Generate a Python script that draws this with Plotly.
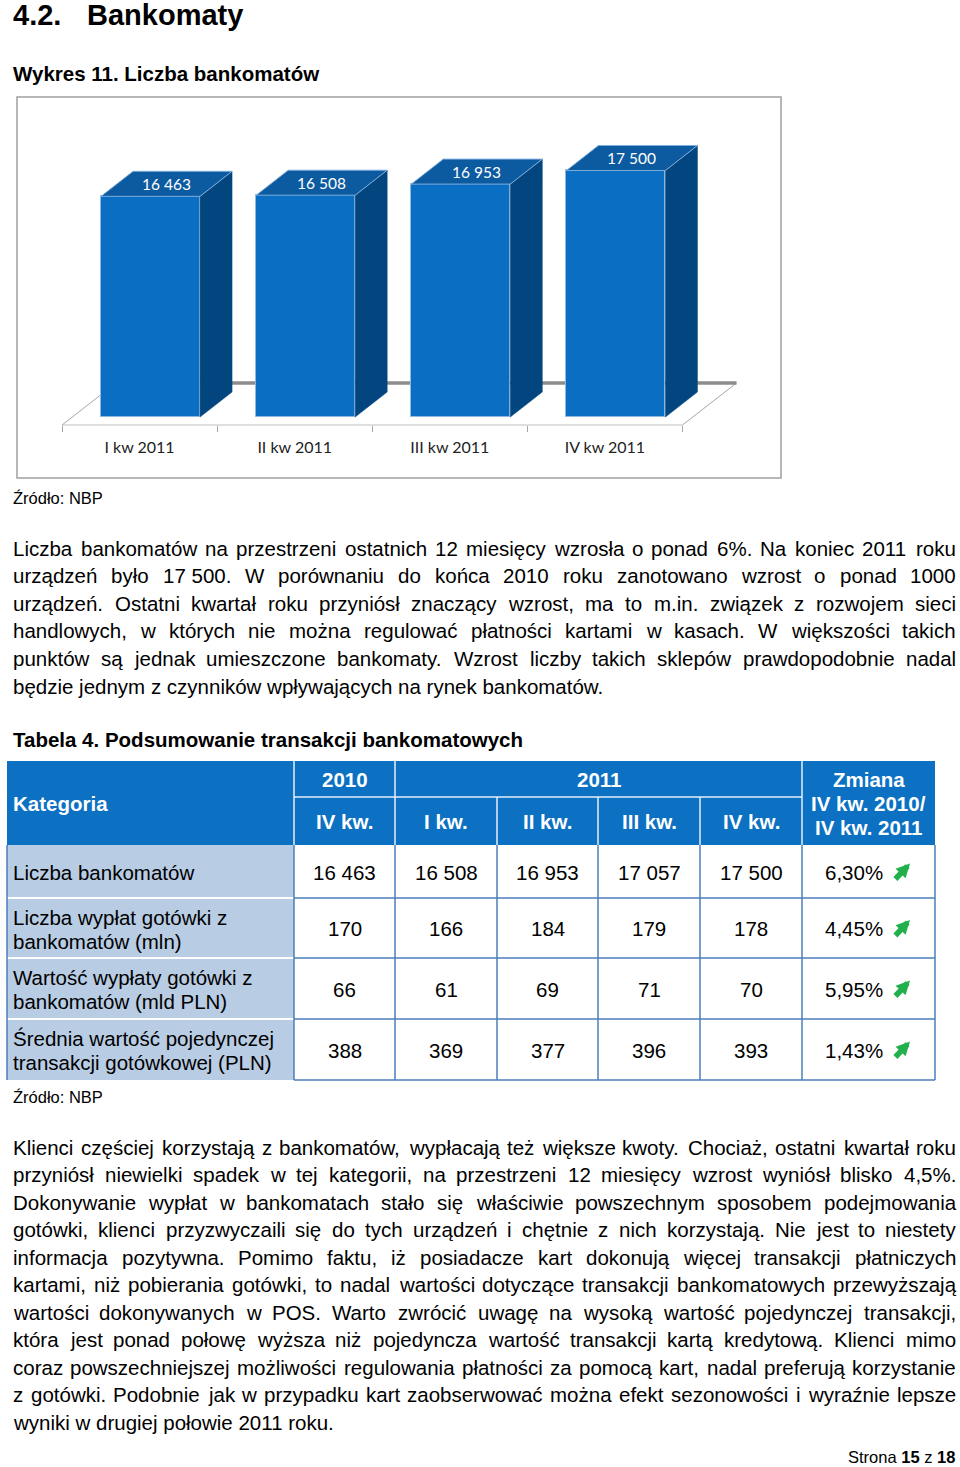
import plotly.graph_objects as go

W, H = 960, 1467

# ---------------- data ----------------
quarters = ["I kw 2011", "II kw 2011", "III kw 2011", "IV kw 2011"]
atm_counts = [16463, 16508, 16953, 17500]

table_year_headers = ["2010", "2011"]
table_quarter_headers = ["IV kw.", "I kw.", "II kw.", "III kw.", "IV kw."]
table_change_header = ["Zmiana", "IV kw. 2010/", "IV kw. 2011"]
table_categories = [
    "Liczba bankomatów",
    "Liczba wypłat gotówki z\nbankomatów (mln)",
    "Wartość wypłaty gotówki z\nbankomatów (mld PLN)",
    "Średnia wartość pojedynczej\ntransakcji gotówkowej (PLN)",
]
table_values = [
    [16463, 16508, 16953, 17057, 17500],
    [170, 166, 184, 179, 178],
    [66, 61, 69, 71, 70],
    [388, 369, 377, 396, 393],
]
table_changes = ["6,30%", "4,45%", "5,95%", "1,43%"]

paragraph1 = [
    "Liczba bankomatów na przestrzeni ostatnich 12 miesięcy wzrosła o ponad 6%. Na koniec 2011 roku",
    "urządzeń było 17\u00a0500. W porównaniu do końca 2010 roku zanotowano wzrost o ponad 1000",
    "urządzeń. Ostatni kwartał roku przyniósł znaczący wzrost, ma to m.in. związek z rozwojem sieci",
    "handlowych, w których nie można regulować płatności kartami w kasach. W większości takich",
    "punktów są jednak umieszczone bankomaty. Wzrost liczby takich sklepów prawdopodobnie nadal",
    "będzie jednym z czynników wpływających na rynek bankomatów.",
]
paragraph2 = [
    "Klienci częściej korzystają z bankomatów, wypłacają też większe kwoty. Chociaż, ostatni kwartał roku",
    "przyniósł niewielki spadek w tej kategorii, na przestrzeni 12 miesięcy wzrost wyniósł blisko 4,5%.",
    "Dokonywanie wypłat w bankomatach stało się właściwie powszechnym sposobem podejmowania",
    "gotówki, klienci przyzwyczaili się do tych urządzeń i chętnie z nich korzystają. Nie jest to niestety",
    "informacja pozytywna. Pomimo faktu, iż posiadacze kart dokonują więcej transakcji płatniczych",
    "kartami, niż pobierania gotówki, to nadal wartości dotyczące transakcji bankomatowych przewyższają",
    "wartości dokonywanych w POS. Warto zwrócić uwagę na wysoką wartość pojedynczej transakcji,",
    "która jest ponad połowę wyższa niż pojedyncza wartość transakcji kartą kredytową. Klienci mimo",
    "coraz powszechniejszej możliwości regulowania płatności za pomocą kart, nadal preferują korzystanie",
    "z gotówki. Podobnie jak w przypadku kart zaobserwować można efekt sezonowości i wyraźnie lepsze",
    "wyniki w drugiej połowie 2011 roku.",
]

# ---------------- styling helpers ----------------
SANS = "Liberation Sans, Arial, sans-serif"
CHART_FONT = "Lato, Open Sans, sans-serif"
BODY = 20.5

REG_W = {' ': 278, '\u00a0': 278, '!': 278, '%': 889, '(': 333, ')': 333, ',': 278,
         '-': 333, '.': 278, '/': 278, ':': 278, ';': 278}
REG_W.update({d: 556 for d in "0123456789"})
REG_W.update(dict(A=667, B=667, C=722, D=722, E=667, F=611, G=778, H=722, I=278, J=500,
                  K=667, L=556, M=833, N=722, O=778, P=667, Q=778, R=722, S=667, T=611,
                  U=722, V=667, W=944, X=667, Y=667, Z=611))
REG_W.update(dict(a=556, b=556, c=500, d=556, e=556, f=278, g=556, h=556, i=222, j=222,
                  k=500, l=222, m=833, n=556, o=556, p=556, q=556, r=333, s=500, t=278,
                  u=556, v=500, w=722, x=500, y=500, z=500))
REG_W.update({'ą': 556, 'ć': 500, 'ę': 556, 'ł': 222, 'ń': 556, 'ó': 556, 'ś': 500,
              'ź': 500, 'ż': 500, 'Ś': 667, 'Ź': 611, 'Ż': 611, 'Ł': 556, 'Ó': 778, 'Ć': 722})


def text_width(s, size):
    return sum(REG_W.get(c, 556) for c in s) * size / 1000.0


def px(x):
    return x / W


def py(y):
    return 1 - y / H


annotations = []
shapes = []


def add_text(x, y, s, size=BODY, bold=False, color="#000000", xanchor="left", family=SANS):
    annotations.append(dict(
        x=px(x), y=py(y), xref="paper", yref="paper", text=s, showarrow=False,
        xanchor=xanchor, yanchor="middle", borderpad=0,
        font=dict(family=family, size=size, color=color, weight=700 if bold else 400)))


def add_rect(x0, y0, x1, y1, fill=None, line=None, lw=1):
    shapes.append(dict(type="rect", xref="paper", yref="paper",
                       x0=px(x0), x1=px(x1), y0=py(y0), y1=py(y1),
                       fillcolor=fill if fill else "rgba(0,0,0,0)",
                       line=dict(color=line if line else "rgba(0,0,0,0)", width=lw if line else 0)))


def add_line(x0, y0, x1, y1, color, lw):
    shapes.append(dict(type="line", xref="paper", yref="paper",
                       x0=px(x0), x1=px(x1), y0=py(y0), y1=py(y1),
                       line=dict(color=color, width=lw)))


def add_paragraph(lines, y0, step, left=12, right=955, size=BODY):
    for k, line in enumerate(lines):
        y = y0 + k * step
        words = line.split(" ")
        last = (k == len(lines) - 1)
        if last or len(words) < 2:
            add_text(left, y, line, size=size)
            continue
        widths = [text_width(w, size) for w in words]
        gap = (right - left - sum(widths)) / (len(words) - 1)
        x = left
        for w, ww in zip(words, widths):
            add_text(x, y, w, size=size)
            x += ww + gap


# ---------------- headings & text ----------------
add_text(12, 15, "4.2.", size=29, bold=True)
add_text(86, 15, "Bankomaty", size=29, bold=True)
add_text(12, 74, "Wykres 11. Liczba bankomatów", bold=True)
add_text(12, 498, "Źródło: NBP", size=16.5)
add_paragraph(paragraph1, 548, 27.6)
add_text(12, 739, "Tabela 4. Podsumowanie transakcji bankomatowych", bold=True)
add_text(12, 1097, "Źródło: NBP", size=16.5)
add_paragraph(paragraph2, 1147, 27.5)
add_text(956, 1457, "Strona <b>15</b> z <b>18</b>", size=16.5, xanchor="right")

# ---------------- chart frame ----------------
add_rect(17, 97, 781, 478, line="#A0A0A0", lw=1.5)

# ---------------- chart geometry (3D look) ----------------
XPX = (682.5 - 62) / len(quarters)          # pixels per category
XDOM = (40, 770)
x_range = [-0.5 - (62 - XDOM[0]) / XPX, len(quarters) - 0.5 + (XDOM[1] - 682.5) / XPX]
PXU = 0.0249                                 # pixels per value unit
V_FLOOR = 7600                               # value at the bars' base line
FLOOR_PX = 417
YDOM = (440, 110)
y_range = [V_FLOOR - (YDOM[0] - FLOOR_PX) / PXU, V_FLOOR + (FLOOR_PX - YDOM[1]) / PXU]

BAR_W = 99 / XPX
BAR_L = -38.5 / XPX
DX = 32 / XPX
DY = 25 / PXU
Y_FRONT = V_FLOOR - 8 / PXU
FDX = 54 / XPX
FDY = 42 / PXU

FRONT = "#0A6FC2"
SIDE = "#03467F"
TOP = "#0C5A9F"

x_lo, x_hi = -0.5, len(quarters) - 0.5
floor_lines = [
    ((x_lo, Y_FRONT), (x_hi, Y_FRONT), "#BFBFBF", 1.2),
    ((x_lo, Y_FRONT), (x_lo + FDX, Y_FRONT + FDY), "#A6A6A6", 1),
    ((x_hi, Y_FRONT), (x_hi + FDX, Y_FRONT + FDY), "#A6A6A6", 1),
    ((x_lo + FDX, Y_FRONT + FDY), (x_hi + FDX, Y_FRONT + FDY), "#8C8C8C", 3.5),
]
for (a, b, c, w) in floor_lines:
    shapes.append(dict(type="line", xref="x", yref="y", layer="below",
                       x0=a[0], y0=a[1], x1=b[0], y1=b[1], line=dict(color=c, width=w)))

fig = go.Figure()
idx = list(range(len(quarters)))
fig.add_trace(go.Bar(
    x=idx, y=[v - V_FLOOR for v in atm_counts], base=V_FLOOR,
    width=BAR_W, offset=BAR_L,
    marker=dict(color=FRONT, line=dict(color="#8DB9E2", width=1)),
    hoverinfo="skip", showlegend=False))

for i, v in zip(idx, atm_counts):
    xl = i + BAR_L
    xr = xl + BAR_W
    fig.add_trace(go.Scatter(
        x=[xr, xr + DX, xr + DX, xr, xr], y=[V_FLOOR, V_FLOOR + DY, v + DY, v, V_FLOOR],
        mode="lines", fill="toself", fillcolor=SIDE, line=dict(color=SIDE, width=0.5),
        hoverinfo="skip", showlegend=False))
    fig.add_trace(go.Scatter(
        x=[xl, xr, xr + DX, xl + DX, xl], y=[v, v, v + DY, v + DY, v],
        mode="lines", fill="toself", fillcolor=TOP, line=dict(color="#7FAEDB", width=1),
        hoverinfo="skip", showlegend=False))
    annotations.append(dict(
        x=(xl + xr) / 2 + DX / 2, y=v + DY / 2, xref="x", yref="y",
        text=f"{v:,}".replace(",", " "), showarrow=False, xanchor="center", yanchor="middle",
        font=dict(family=CHART_FONT, size=15.5, color="white")))

# ---------------- table ----------------
COLS = [7, 294, 395, 497, 598, 700, 802, 935]
ROWS = [845, 898, 958, 1019, 1080]
HEAD_TOP, HEAD_MID = 761, 797
HEAD_BG = "#0C71C3"
CAT_BG = "#B8CCE4"
GRID = "#4A7EBB"

add_rect(COLS[0], HEAD_TOP, COLS[-1], ROWS[0], fill=HEAD_BG)
for xc in (COLS[1], COLS[2], COLS[6]):
    add_line(xc, HEAD_TOP, xc, ROWS[0], "#E6EEF8", 1.5)
for xc in COLS[3:6]:
    add_line(xc, HEAD_MID, xc, ROWS[0], "#E6EEF8", 1.5)
add_line(COLS[1], HEAD_MID, COLS[6], HEAD_MID, "#E6EEF8", 1.5)

for r in range(len(table_categories)):
    add_rect(COLS[0], ROWS[r], COLS[1], ROWS[r + 1], fill=CAT_BG)
for yb in ROWS[1:-1]:
    add_line(COLS[0], yb, COLS[1], yb, "#FFFFFF", 2)
for yb in ROWS[1:]:
    add_line(COLS[1], yb, COLS[-1], yb, GRID, 1.5)
for xc in COLS[1:]:
    add_line(xc, ROWS[0], xc, ROWS[-1], GRID, 1.5)
add_line(COLS[0], ROWS[0], COLS[0], ROWS[-1], GRID, 1.5)

# header text
add_text(12, 803, "Kategoria", bold=True, color="white")
add_text((COLS[1] + COLS[2]) / 2, 779, table_year_headers[0], bold=True, color="white", xanchor="center")
add_text((COLS[2] + COLS[6]) / 2, 779, table_year_headers[1], bold=True, color="white", xanchor="center")
for c, q in enumerate(table_quarter_headers):
    add_text((COLS[c + 1] + COLS[c + 2]) / 2, 822, q, bold=True, color="white", xanchor="center")
zc = (COLS[6] + COLS[7]) / 2
for k, t in enumerate(table_change_header):
    add_text(zc, 779 + 24 * k, t, bold=True, color="white", xanchor="center")

# body text
for r, cat in enumerate(table_categories):
    yc = (ROWS[r] + ROWS[r + 1]) / 2 + 1
    parts = cat.split("\n")
    for k, part in enumerate(parts):
        add_text(12, yc + (k - (len(parts) - 1) / 2) * 24, part)
    for c, val in enumerate(table_values[r]):
        add_text((COLS[c + 1] + COLS[c + 2]) / 2, yc, f"{val:,}".replace(",", " "), xanchor="center")
    add_text(884, yc, table_changes[r], xanchor="right")
    annotations.append(dict(
        x=px(910), y=py(yc - 9), xref="paper", yref="paper", text="", showarrow=True,
        ax=-16, ay=17, axref="pixel", ayref="pixel", arrowhead=2, arrowsize=0.5,
        arrowwidth=5.5, arrowcolor="#22B04C", standoff=0, startstandoff=0))

fig.update_layout(
    width=W, height=H, margin=dict(l=0, r=0, t=0, b=0),
    paper_bgcolor="white", plot_bgcolor="white", showlegend=False,
    bargap=0,
    xaxis=dict(domain=[px(XDOM[0]), px(XDOM[1])], range=x_range,
               tickmode="array", tickvals=idx, ticktext=quarters, ticks="",
               showgrid=False, zeroline=False, showline=False,
               anchor="free", position=py(425), ticklabelstandoff=11,
               tickfont=dict(family=CHART_FONT, size=16, color="#222222"),
               minor=dict(tickmode="array", tickvals=[i - 0.5 for i in range(len(quarters) + 1)],
                          ticks="outside", ticklen=6, tickcolor="#A6A6A6", tickwidth=1,
                          showgrid=False),
               fixedrange=True),
    yaxis=dict(domain=[py(YDOM[0]), py(YDOM[1])], range=y_range, visible=False, fixedrange=True),
    shapes=shapes, annotations=annotations,
)

fig.write_html("out.html", config={"displayModeBar": False},
               post_script="document.body.style.margin='0px';")
